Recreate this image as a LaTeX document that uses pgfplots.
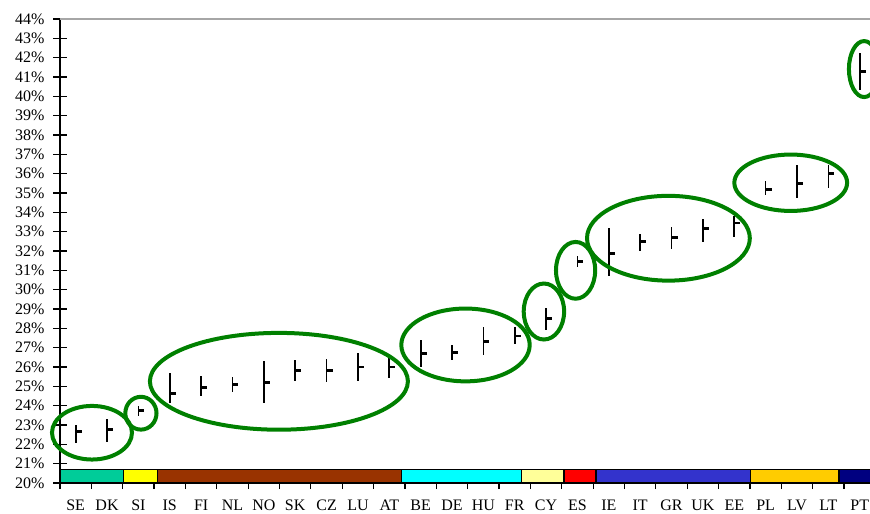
\documentclass[border=0pt]{standalone}
\usepackage{fontspec}
\setmainfont{Liberation Serif}
\usepackage{pgfplots}
\usepackage{pgfplotstable}
\pgfplotsset{compat=1.18}
\definecolor{cA}{HTML}{00CC99}
\definecolor{cB}{HTML}{FFFF00}
\definecolor{cC}{HTML}{993300}
\definecolor{cD}{HTML}{00FFFF}
\definecolor{cE}{HTML}{FFFF99}
\definecolor{cF}{HTML}{FF0000}
\definecolor{cG}{HTML}{3333CC}
\definecolor{cH}{HTML}{FFCC00}
\definecolor{cI}{HTML}{000080}
\definecolor{ell}{RGB}{0,128,0}
\pgfdeclareplotmark{rtick}{\pgfpathmoveto{\pgfqpoint{0pt}{0pt}}\pgfpathlineto{\pgfqpoint{3pt}{0pt}}\pgfusepathqstroke}
\pgfplotstableread{
x y lo hi
0 22.65 22.05 23.0
1 22.75 22.1 23.3
2 23.75 23.45 24.0
3 24.65 24.15 25.7
4 24.95 24.5 25.55
5 25.1 24.7 25.5
6 25.18 24.15 26.3
7 25.8 25.3 26.35
8 25.8 25.2 26.4
9 26.0 25.3 26.7
10 26.0 25.45 26.5
11 26.7 26.0 27.4
12 26.75 26.35 27.15
13 27.3 26.6 28.05
14 27.6 27.2 28.05
15 28.5 27.9 29.05
16 31.45 31.15 31.75
17 31.85 30.7 33.2
18 32.5 32.0 32.9
19 32.7 32.1 33.25
20 33.15 32.45 33.65
21 33.45 32.7 33.8
22 35.2 34.9 35.6
23 35.5 34.75 36.45
24 36.0 35.25 36.45
25 41.3 40.35 42.25
}\data
\begin{document}
\begin{tikzpicture}
\begin{axis}[
  at={(0,0)}, anchor=south west, scale only axis,
  width=407.7pt, height=232pt,
  xmin=-0.5, xmax=25.5, ymin=20, ymax=44,
  axis lines*=left,
  axis line style={-, line width=0.7pt, black},
  clip=false,
  tick align=center,
  major tick length=6.5pt,
  minor tick length=3pt,
  ytick={20,...,44},
  yticklabel={\pgfmathprintnumber{\tick}\%},
  /pgf/number format/assume math mode=true,
  xtick={0,...,25},
  xticklabels={SE,DK,SI,IS,FI,NL,NO,SK,CZ,LU,AT,BE,DE,HU,FR,CY,ES,IE,IT,GR,UK,EE,PL,LV,LT,PT},
  major x tick style={draw=none},
  minor xtick={-0.5,0.5,...,25.5},
  minor x tick style={yshift=-1.5pt, line width=0.6pt, black},
  major y tick style={line width=0.7pt, black},
  every tick label/.append style={font=\fontsize{8}{9.5}\selectfont, text=black},
  xticklabel style={yshift=-1.5pt},
  yticklabel style={xshift=-1pt},
]
\addplot[fill=cA, draw=black, line width=0.6pt] coordinates {(-0.5,20) (-0.5,20.7) (1.52,20.7) (1.52,20) (-0.5,20)};
\addplot[fill=cB, draw=black, line width=0.6pt] coordinates {(1.52,20) (1.52,20.7) (2.62,20.7) (2.62,20) (1.52,20)};
\addplot[fill=cC, draw=black, line width=0.6pt] coordinates {(2.62,20) (2.62,20.7) (10.4,20.7) (10.4,20) (2.62,20)};
\addplot[fill=cD, draw=black, line width=0.6pt] coordinates {(10.4,20) (10.4,20.7) (14.22,20.7) (14.22,20) (10.4,20)};
\addplot[fill=cE, draw=black, line width=0.6pt] coordinates {(14.22,20) (14.22,20.7) (15.57,20.7) (15.57,20) (14.22,20)};
\addplot[fill=cF, draw=black, line width=0.6pt] coordinates {(15.57,20) (15.57,20.7) (16.59,20.7) (16.59,20) (15.57,20)};
\addplot[fill=cG, draw=black, line width=0.6pt] coordinates {(16.59,20) (16.59,20.7) (21.52,20.7) (21.52,20) (16.59,20)};
\addplot[fill=cH, draw=black, line width=0.6pt] coordinates {(21.52,20) (21.52,20.7) (24.34,20.7) (24.34,20) (21.52,20)};
\addplot[fill=cI, draw=black, line width=0.6pt] coordinates {(24.34,20) (24.34,20.7) (25.5,20.7) (25.5,20) (24.34,20)};
\addplot[black, only marks, mark=rtick, mark options={line width=1.4pt, black},
  error bars/.cd, y dir=both, y explicit, error mark=none,
  error bar style={line width=0.85pt, black}]
  table[x=x, y=y, y error plus expr=\thisrow{hi}-\thisrow{y}, y error minus expr=\thisrow{y}-\thisrow{lo}] {\data};
\draw[gray!70, line width=0.7pt] (axis cs:-0.5,44) -- (axis cs:25.5,44);
\begin{scope}[ell, line width=2pt]
\draw (axis cs:0.52,22.60) ellipse [x radius=20pt, y radius=13.4pt];
\draw (axis cs:2.08,23.61) ellipse [x radius=7.8pt, y radius=8.2pt];
\draw (axis cs:6.48,25.26) ellipse [x radius=64.5pt, y radius=24.2pt];
\draw (axis cs:12.43,27.14) ellipse [x radius=32.1pt, y radius=18.2pt];
\draw (axis cs:14.93,28.87) ellipse [x radius=10.1pt, y radius=14pt];
\draw (axis cs:15.94,31.00) ellipse [x radius=9.8pt, y radius=14.2pt];
\draw (axis cs:18.90,32.66) ellipse [x radius=40.7pt, y radius=21.2pt];
\draw (axis cs:22.80,35.53) ellipse [x radius=28.2pt, y radius=14.1pt];
\draw (axis cs:25.14,41.41) ellipse [x radius=7.6pt, y radius=14pt];
\end{scope}
\end{axis}
\pgfresetboundingbox
\path[use as bounding box] (-30pt,-15pt) rectangle (405pt,241.5pt);
\end{tikzpicture}
\end{document}
